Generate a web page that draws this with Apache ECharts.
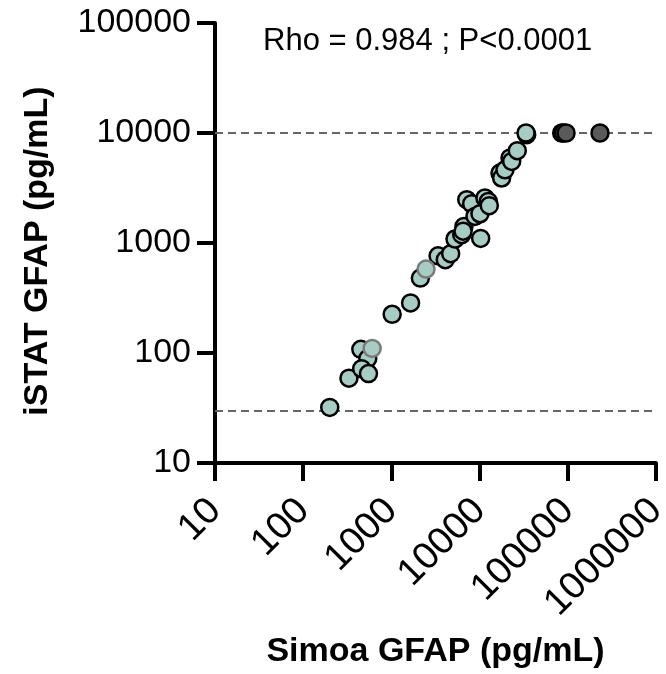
<!DOCTYPE html>
<html>
<head>
<meta charset="utf-8">
<script src="https://cdn.jsdelivr.net/npm/echarts@6/dist/echarts.min.js"></script>
<style>html,body{margin:0;padding:0;background:#fff}#c{width:666px;height:674px}</style>
</head>
<body>
<div id="c"></div>
<script>
// Simoa GFAP (x) vs iSTAT GFAP (y), pg/mL
var tealX = [200, 330, 450, 540, 460, 550, 1020, 1650, 2130, 3380, 4083, 4700, 5260, 6270, 6650, 6500, 7150, 8130, 8870, 10100, 11500, 12560, 12880, 10280, 17020, 17780, 19400, 22130, 23120, 26750, 34200, 33600];
var tealY = [32, 59, 108, 89, 72, 65, 225, 285, 480, 765, 705, 800, 1087, 1189, 1416, 1280, 2477, 2275, 1745, 1845, 2565, 2390, 2185, 1101, 4325, 3900, 4630, 5930, 5520, 6900, 9660, 10000];
var greyEdgeX = [605, 2470];
var greyEdgeY = [110, 580];
var darkX = [85300, 88900, 95500, 231700];
var darkY = [10000, 10000, 10000, 10000];
var refLines = [10000, 30];
var xTicks = [10, 100, 1000, 10000, 100000, 1000000];
var yTicks = [10, 100, 1000, 10000, 100000];
var annotation = 'Rho = 0.984 ; P<0.0001';
var xTitle = 'Simoa GFAP (pg/mL)';
var yTitle = 'iSTAT GFAP (pg/mL)';

function pairs(xs, ys) { return xs.map(function (v, i) { return [v, ys[i]]; }); }

var FONT = 'Arial, "Liberation Sans", sans-serif';
var chart = echarts.init(document.getElementById('c'), null, { renderer: 'canvas' });
var axisCommon = {
  type: 'log', logBase: 10,
  axisLine: { show: true, lineStyle: { color: '#000', width: 4 } },
  axisTick: { show: true, length: 18, lineStyle: { color: '#000', width: 4 } },
  minorTick: { show: false },
  splitLine: { show: false },
  minorSplitLine: { show: false }
};
chart.setOption({
  animation: false,
  backgroundColor: '#fff',
  grid: { left: 215, right: 10, top: 23, bottom: 211, containLabel: false, outerBoundsMode: 'none' },
  xAxis: Object.assign({}, axisCommon, {
    min: xTicks[0], max: xTicks[xTicks.length - 1], splitNumber: 5,
    axisLabel: {
      rotate: 45, margin: 42, color: '#000', fontSize: 38, fontFamily: FONT,
      formatter: function (v) { return String(Math.round(v)); }
    },
    name: xTitle, nameLocation: 'middle', nameGap: 172,
    nameTextStyle: { color: '#000', fontSize: 34, fontWeight: 'bold', fontFamily: FONT }
  }),
  yAxis: Object.assign({}, axisCommon, {
    min: yTicks[0], max: yTicks[yTicks.length - 1], splitNumber: 4,
    axisLabel: {
      margin: 24, color: '#000', fontSize: 34, fontFamily: FONT,
      formatter: function (v) { return String(Math.round(v)); }
    }
  }),
  graphic: [
    { type: 'text', left: 263, top: 26, style: { text: annotation, fill: '#000', font: '31px ' + FONT } },
    { type: 'text', x: 38, y: 251, rotation: Math.PI / 2,
      style: { text: yTitle, fill: '#000', font: 'bold 34px ' + FONT, align: 'center', verticalAlign: 'middle' } }
  ],
  series: [
    {
      type: 'scatter', name: 'teal', data: pairs(tealX, tealY), symbol: 'circle', symbolSize: 17,
      itemStyle: { color: '#A7CCC3', borderColor: '#000', borderWidth: 2.5, opacity: 1 },
      markLine: {
        silent: true, symbol: 'none', label: { show: false },
        lineStyle: { color: '#666', width: 2, type: [8, 5] },
        data: refLines.map(function (v) { return { yAxis: v }; }),
        z: 1
      },
      z: 3
    },
    {
      type: 'scatter', name: 'greyEdge', data: pairs(greyEdgeX, greyEdgeY), symbol: 'circle', symbolSize: 17,
      itemStyle: { color: '#A7CCC3', borderColor: '#7a7a7a', borderWidth: 2.5, opacity: 1 }, z: 4
    },
    {
      type: 'scatter', name: 'dark', data: pairs(darkX, darkY), symbol: 'circle', symbolSize: 17,
      itemStyle: { color: '#5a5a5a', borderColor: '#000', borderWidth: 2.5, opacity: 1 }, z: 4
    }
  ]
});
</script>
</body>
</html>
